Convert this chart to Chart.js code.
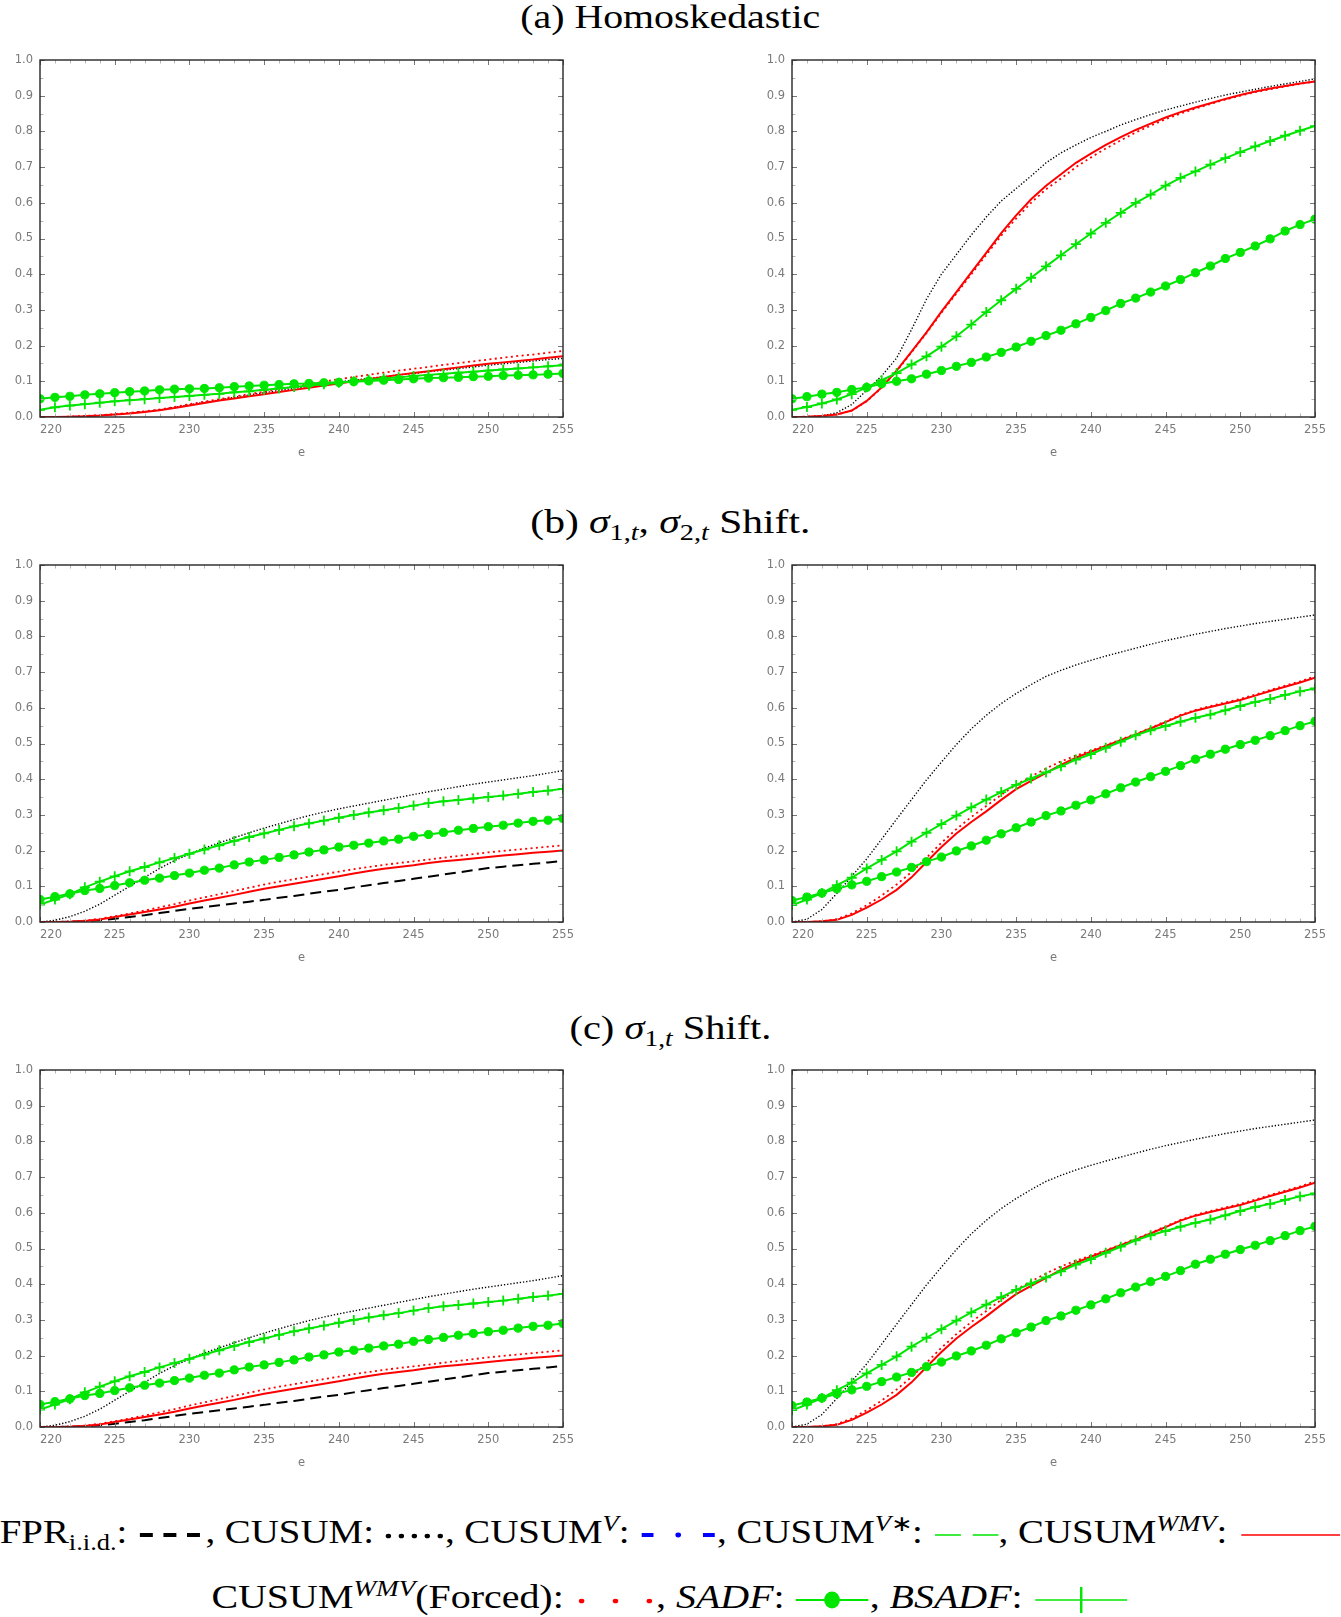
<!DOCTYPE html>
<html>
<head>
<meta charset="utf-8">
<script src="https://cdn.jsdelivr.net/npm/chart.js@4.4.0/dist/chart.umd.min.js"></script>
<style>
html,body{margin:0;padding:0;background:#fff;}
body{width:1341px;height:1617px;position:relative;overflow:hidden;font-family:"Liberation Serif","Times New Roman",serif;color:#000;}
canvas{position:absolute;}
.row{position:absolute;left:0;width:1341px;text-align:center;white-space:nowrap;}
.title{font-size:33px;line-height:40px;height:40px;}
.leg{font-size:33px;line-height:44px;height:44px;}
.fit{display:inline-block;transform-origin:50% 50%;}
sup,sub{font-size:0.68em;line-height:0;}
sup{vertical-align:0.55em;}
sub{vertical-align:-0.3em;}
svg{vertical-align:middle;}
</style>
</head>
<body>
<div class="row title" style="top:-3px"><span class="fit" data-w="300">(a) Homoskedastic</span></div>
<div class="row title" style="top:502px"><span class="fit" data-w="280">(b) <i>σ</i><sub>1,<i>t</i></sub>, <i>σ</i><sub>2,<i>t</i></sub> Shift.</span></div>
<div class="row title" style="top:1008px"><span class="fit" data-w="202">(c) <i>σ</i><sub>1,<i>t</i></sub> Shift.</span></div>

<canvas id="aL" width="585" height="417" style="left:0px;top:45px"></canvas>
<canvas id="aR" width="585" height="417" style="left:752px;top:45px"></canvas>
<canvas id="bL" width="585" height="417" style="left:0px;top:550px"></canvas>
<canvas id="bR" width="585" height="417" style="left:752px;top:550px"></canvas>
<canvas id="cL" width="585" height="417" style="left:0px;top:1055px"></canvas>
<canvas id="cR" width="585" height="417" style="left:752px;top:1055px"></canvas>

<div class="row leg" style="top:1510px"><span class="fit" data-w="1341">FPR<sub>i.i.d.</sub>: <svg width="58" height="20"><line x1="2" y1="10" x2="56" y2="10" stroke="#000" stroke-width="4" stroke-dasharray="11 9"/></svg>, CUSUM: <svg width="52" height="20"><circle cx="4" cy="11" r="2.3" fill="#000"/><circle cx="15" cy="11" r="2.3" fill="#000"/><circle cx="26" cy="11" r="2.3" fill="#000"/><circle cx="37" cy="11" r="2.3" fill="#000"/><circle cx="48" cy="11" r="2.3" fill="#000"/></svg>, CUSUM<sup><i>V</i></sup>: <svg width="66" height="20"><rect x="2" y="8" width="10" height="4" fill="#0000ff"/><circle cx="33" cy="10" r="2.4" fill="#0000ff"/><rect x="54" y="8" width="10" height="4" fill="#0000ff"/></svg>, CUSUM<sup><i>V</i>∗</sup>: <svg width="56" height="20"><line x1="2" y1="10" x2="24" y2="10" stroke="#00e600" stroke-width="1.6"/><line x1="34" y1="10" x2="56" y2="10" stroke="#00e600" stroke-width="1.6"/></svg>, CUSUM<sup><i>WMV</i></sup>: <svg width="88" height="20"><line x1="4" y1="10" x2="88" y2="10" stroke="#ff0000" stroke-width="1.6"/></svg></span></div>
<div class="row leg" style="top:1575px"><span class="fit" data-w="918">CUSUM<sup><i>WMV</i></sup>(Forced): <svg width="68" height="20"><circle cx="6" cy="11" r="2.3" fill="#ff0000"/><circle cx="34" cy="11" r="2.3" fill="#ff0000"/><circle cx="62" cy="11" r="2.3" fill="#ff0000"/></svg>, <i>SADF</i>: <svg width="62" height="26"><line x1="1" y1="13" x2="61" y2="13" stroke="#00e600" stroke-width="2"/><ellipse cx="31" cy="13" rx="6.5" ry="8.5" fill="#00e600"/></svg>, <i>BSADF</i>: <svg width="80" height="32"><line x1="2" y1="16" x2="78" y2="16" stroke="#00e600" stroke-width="1.6"/><line x1="40" y1="3" x2="40" y2="29" stroke="#00e600" stroke-width="2"/></svg></span></div>

<script>
// ---------------- data ----------------
const E = [220,221,222,223,224,225,226,227,228,229,230,231,232,233,234,235,236,237,238,239,240,241,242,243,244,245,246,247,248,249,250,251,252,253,254,255];
const X_TICKS = [220,225,230,235,240,245,250,255];
const Y_TICKS = [0,0.1,0.2,0.3,0.4,0.5,0.6,0.7,0.8,0.9,1.0];

// (a) Homoskedastic, left
const aL_cusum  = [0.000,0.000,0.001,0.002,0.004,0.007,0.011,0.015,0.020,0.027,0.034,0.041,0.048,0.055,0.062,0.068,0.074,0.080,0.086,0.092,0.098,0.103,0.108,0.113,0.118,0.122,0.127,0.131,0.136,0.140,0.145,0.149,0.153,0.157,0.161,0.164];
const aL_wmv    = [0.000,0.000,0.001,0.002,0.004,0.007,0.010,0.014,0.019,0.025,0.032,0.039,0.046,0.052,0.058,0.064,0.070,0.076,0.082,0.088,0.094,0.100,0.106,0.112,0.118,0.123,0.128,0.134,0.139,0.144,0.149,0.153,0.157,0.161,0.166,0.170];
const aL_forced = [0.000,0.000,0.001,0.003,0.005,0.008,0.012,0.016,0.021,0.028,0.036,0.043,0.050,0.057,0.064,0.071,0.078,0.085,0.092,0.099,0.106,0.112,0.118,0.124,0.130,0.135,0.140,0.146,0.151,0.156,0.161,0.166,0.171,0.175,0.180,0.185];
const aL_sadf   = [0.051,0.055,0.058,0.062,0.065,0.068,0.071,0.073,0.076,0.078,0.079,0.080,0.082,0.085,0.087,0.089,0.091,0.093,0.094,0.096,0.097,0.099,0.101,0.103,0.105,0.107,0.109,0.110,0.111,0.113,0.114,0.116,0.117,0.118,0.120,0.122];
const aL_bsadf  = [0.020,0.027,0.032,0.036,0.040,0.044,0.047,0.050,0.053,0.056,0.059,0.062,0.065,0.069,0.072,0.076,0.080,0.084,0.088,0.092,0.096,0.100,0.104,0.108,0.111,0.115,0.118,0.121,0.124,0.127,0.130,0.133,0.136,0.139,0.142,0.145];

// (a) Homoskedastic, right
const aR_cusum  = [0.000,0.001,0.003,0.012,0.035,0.075,0.115,0.165,0.245,0.330,0.400,0.455,0.510,0.560,0.605,0.640,0.675,0.712,0.740,0.762,0.783,0.800,0.818,0.833,0.847,0.860,0.871,0.882,0.892,0.902,0.910,0.918,0.926,0.933,0.940,0.947];
const aR_wmv    = [0.000,0.001,0.003,0.007,0.018,0.045,0.083,0.130,0.183,0.237,0.295,0.350,0.405,0.460,0.515,0.565,0.610,0.648,0.680,0.712,0.738,0.762,0.784,0.804,0.822,0.839,0.854,0.867,0.879,0.891,0.902,0.912,0.920,0.927,0.934,0.940];
const aR_forced = [0.000,0.001,0.003,0.007,0.018,0.044,0.082,0.128,0.181,0.235,0.292,0.346,0.400,0.454,0.508,0.556,0.600,0.638,0.668,0.700,0.727,0.752,0.775,0.797,0.816,0.834,0.850,0.864,0.877,0.889,0.900,0.910,0.918,0.926,0.933,0.940];
const aR_sadf   = [0.051,0.057,0.064,0.069,0.077,0.083,0.093,0.100,0.107,0.120,0.130,0.142,0.153,0.168,0.181,0.196,0.212,0.228,0.243,0.261,0.279,0.298,0.318,0.333,0.350,0.367,0.385,0.404,0.423,0.444,0.461,0.479,0.499,0.521,0.539,0.554];
const aR_bsadf  = [0.020,0.028,0.038,0.049,0.064,0.083,0.103,0.123,0.147,0.170,0.197,0.226,0.259,0.294,0.327,0.359,0.390,0.422,0.453,0.484,0.514,0.544,0.572,0.600,0.623,0.648,0.670,0.688,0.707,0.725,0.742,0.758,0.773,0.788,0.802,0.815];

// (b) sigma_{1,t}, sigma_{2,t} shift, left
const bL_fpr    = [0.000,0.000,0.001,0.002,0.005,0.009,0.014,0.019,0.025,0.031,0.037,0.042,0.047,0.052,0.057,0.062,0.068,0.073,0.079,0.085,0.090,0.097,0.103,0.109,0.115,0.121,0.127,0.133,0.139,0.145,0.151,0.155,0.159,0.163,0.167,0.171];
const bL_cusum  = [0.000,0.005,0.015,0.030,0.050,0.075,0.100,0.125,0.150,0.172,0.190,0.207,0.222,0.236,0.250,0.263,0.275,0.287,0.298,0.308,0.317,0.325,0.333,0.341,0.349,0.357,0.365,0.372,0.379,0.386,0.392,0.398,0.404,0.410,0.417,0.424];
const bL_wmv    = [0.000,0.000,0.001,0.003,0.007,0.014,0.021,0.028,0.035,0.043,0.052,0.060,0.068,0.076,0.085,0.093,0.100,0.107,0.114,0.121,0.128,0.136,0.143,0.149,0.154,0.159,0.165,0.170,0.174,0.178,0.182,0.186,0.190,0.194,0.197,0.200];
const bL_forced = [0.000,0.000,0.002,0.004,0.009,0.016,0.024,0.032,0.041,0.050,0.060,0.069,0.078,0.087,0.096,0.105,0.113,0.120,0.127,0.134,0.141,0.148,0.154,0.160,0.165,0.170,0.175,0.180,0.185,0.190,0.195,0.199,0.203,0.207,0.211,0.215];
const bL_sadf   = [0.063,0.071,0.079,0.088,0.094,0.102,0.110,0.117,0.123,0.130,0.137,0.145,0.151,0.160,0.168,0.174,0.181,0.188,0.196,0.202,0.210,0.215,0.221,0.227,0.232,0.240,0.245,0.251,0.257,0.262,0.267,0.271,0.277,0.282,0.285,0.290];
const bL_bsadf  = [0.049,0.063,0.078,0.097,0.113,0.128,0.142,0.154,0.167,0.179,0.191,0.203,0.215,0.227,0.238,0.248,0.258,0.268,0.276,0.284,0.292,0.300,0.307,0.313,0.319,0.326,0.333,0.338,0.342,0.346,0.350,0.354,0.359,0.364,0.368,0.373];

// (b) sigma_{1,t}, sigma_{2,t} shift, right
const bR_cusum  = [0.000,0.008,0.035,0.080,0.128,0.177,0.232,0.288,0.343,0.398,0.448,0.497,0.541,0.579,0.612,0.640,0.665,0.688,0.705,0.720,0.733,0.745,0.756,0.767,0.778,0.788,0.797,0.806,0.814,0.822,0.829,0.836,0.842,0.848,0.854,0.860];
const bR_wmv    = [0.000,0.000,0.002,0.006,0.020,0.040,0.063,0.090,0.125,0.168,0.210,0.248,0.280,0.310,0.342,0.372,0.395,0.418,0.440,0.460,0.477,0.493,0.509,0.525,0.542,0.560,0.578,0.592,0.602,0.612,0.622,0.634,0.647,0.659,0.671,0.684];
const bR_forced = [0.000,0.000,0.002,0.008,0.024,0.047,0.074,0.105,0.140,0.180,0.222,0.260,0.294,0.325,0.356,0.384,0.408,0.430,0.450,0.466,0.480,0.495,0.511,0.527,0.544,0.562,0.580,0.594,0.605,0.615,0.625,0.637,0.650,0.662,0.674,0.688];
const bR_sadf   = [0.060,0.070,0.081,0.093,0.104,0.114,0.127,0.140,0.153,0.169,0.182,0.199,0.213,0.229,0.247,0.264,0.280,0.298,0.311,0.327,0.342,0.359,0.376,0.392,0.407,0.422,0.438,0.456,0.470,0.484,0.497,0.509,0.522,0.536,0.550,0.562];
const bR_bsadf  = [0.047,0.063,0.081,0.103,0.124,0.150,0.174,0.198,0.225,0.250,0.274,0.298,0.321,0.343,0.364,0.384,0.402,0.419,0.436,0.455,0.470,0.488,0.505,0.523,0.537,0.549,0.561,0.572,0.581,0.593,0.605,0.616,0.625,0.636,0.646,0.654];

// (c) sigma_{1,t} shift (same curves as panel b in the figure)
const cL_fpr = bL_fpr, cL_cusum = bL_cusum, cL_wmv = bL_wmv, cL_forced = bL_forced, cL_sadf = bL_sadf, cL_bsadf = bL_bsadf;
const cR_cusum = bR_cusum, cR_wmv = bR_wmv, cR_forced = bR_forced, cR_sadf = bR_sadf, cR_bsadf = bR_bsadf;

// ---------------- styling ----------------
const GREEN = 'rgb(0,230,0)';
const RED = '#ff0000';
const TICK_FONT = {family: 'DejaVu Sans', size: 11.5};
const TICK_COLOR = '#7a7a7a';

const framePlugin = {
  id: 'frame',
  afterDatasetsDraw(chart) {
    const {ctx, chartArea: a, scales: {x, y}} = chart;
    ctx.save();
    ctx.lineWidth = 1;
    for (let v = Math.ceil(x.min); v <= x.max; v++) {
      const px = Math.round(x.getPixelForValue(v)) + 0.5;
      const major = v % 5 === 0;
      const len = major ? 5 : 3.5;
      ctx.strokeStyle = major ? '#777' : '#b5b5b5';
      ctx.beginPath();
      ctx.moveTo(px, a.top); ctx.lineTo(px, a.top + len);
      ctx.moveTo(px, a.bottom); ctx.lineTo(px, a.bottom - len);
      ctx.stroke();
    }
    for (let k = 0; k <= 20; k++) {
      const v = y.min + k * (y.max - y.min) / 20;
      const py = Math.round(y.getPixelForValue(v)) + 0.5;
      const major = k % 2 === 0;
      const len = major ? 5 : 3.5;
      ctx.strokeStyle = major ? '#777' : '#b5b5b5';
      ctx.beginPath();
      ctx.moveTo(a.left, py); ctx.lineTo(a.left + len, py);
      ctx.moveTo(a.right, py); ctx.lineTo(a.right - len, py);
      ctx.stroke();
    }
    ctx.strokeStyle = '#262626';
    ctx.lineWidth = 1.4;
    ctx.strokeRect(a.left, a.top, a.right - a.left, a.bottom - a.top);
    ctx.restore();
  }
};

function pts(arr) { return arr.map((v, i) => ({x: E[i], y: v})); }

function makeChart(id, s) {
  const datasets = [
    {label: 'BSADF', data: pts(s.bsadf), borderColor: GREEN, borderWidth: 2,
     pointStyle: 'cross', pointRadius: 5, pointBorderWidth: 1.8, pointBorderColor: GREEN, pointBackgroundColor: GREEN},
    {label: 'SADF', data: pts(s.sadf), borderColor: GREEN, borderWidth: 2,
     pointStyle: 'circle', pointRadius: 4.1, pointBorderWidth: 1, pointBorderColor: GREEN, pointBackgroundColor: GREEN},
    {label: 'CUSUM WMV (Forced)', data: pts(s.forced), borderColor: RED, borderWidth: 1.8, borderDash: [2, 3.4], pointRadius: 0},
    {label: 'CUSUM WMV', data: pts(s.wmv), borderColor: RED, borderWidth: 2, pointRadius: 0},
    {label: 'CUSUM', data: pts(s.cusum), borderColor: '#000', borderWidth: 1.4, borderDash: [1.3, 1.9], pointRadius: 0}
  ];
  if (s.fpr) datasets.push({label: 'FPR i.i.d.', data: pts(s.fpr), borderColor: '#000', borderWidth: 2, borderDash: [11, 6], pointRadius: 0});
  datasets.forEach(d => { d.fill = false; d.tension = 0; });

  new Chart(document.getElementById(id), {
    type: 'line',
    data: {datasets},
    plugins: [framePlugin],
    options: {
      responsive: false,
      animation: false,
      events: [],
      layout: {padding: {top: 15, right: 22, bottom: 0, left: 0}},
      plugins: {legend: {display: false}, tooltip: {enabled: false}, title: {display: false}},
      scales: {
        x: {
          type: 'linear', min: 220, max: 255,
          afterBuildTicks: ax => { ax.ticks = X_TICKS.map(v => ({value: v})).concat([{value: 256}]); },
          ticks: {autoSkip: false, maxRotation: 0, align: 'inner', padding: 6, font: TICK_FONT, color: TICK_COLOR,
                  callback: v => (v > 255 ? '' : String(v))},
          grid: {display: false, drawTicks: false},
          border: {display: false},
          title: {display: true, text: 'e', font: TICK_FONT, color: TICK_COLOR, padding: {top: 0, bottom: 2}},
          afterFit: sc => { sc.height = 45; sc.paddingLeft = 0; sc.paddingRight = 0; }
        },
        y: {
          min: 0, max: 1,
          afterBuildTicks: ax => { ax.ticks = Y_TICKS.map(v => ({value: v})); },
          ticks: {padding: 7, font: TICK_FONT, color: TICK_COLOR, callback: v => Number(v).toFixed(1)},
          grid: {display: false, drawTicks: false},
          border: {display: false},
          afterFit: sc => { sc.width = 40; }
        }
      }
    }
  });
}

makeChart('aL', {cusum: aL_cusum, wmv: aL_wmv, forced: aL_forced, sadf: aL_sadf, bsadf: aL_bsadf});
makeChart('aR', {cusum: aR_cusum, wmv: aR_wmv, forced: aR_forced, sadf: aR_sadf, bsadf: aR_bsadf});
makeChart('bL', {fpr: bL_fpr, cusum: bL_cusum, wmv: bL_wmv, forced: bL_forced, sadf: bL_sadf, bsadf: bL_bsadf});
makeChart('bR', {cusum: bR_cusum, wmv: bR_wmv, forced: bR_forced, sadf: bR_sadf, bsadf: bR_bsadf});
makeChart('cL', {fpr: cL_fpr, cusum: cL_cusum, wmv: cL_wmv, forced: cL_forced, sadf: cL_sadf, bsadf: cL_bsadf});
makeChart('cR', {cusum: cR_cusum, wmv: cR_wmv, forced: cR_forced, sadf: cR_sadf, bsadf: cR_bsadf});

// stretch text lines horizontally to the widths they occupy in the figure (Computer Modern is wider)
function fitText() {
  document.querySelectorAll('.fit').forEach(el => {
    el.style.transform = 'none';
    const w = el.getBoundingClientRect().width;
    if (w > 0) el.style.transform = 'scaleX(' + (Number(el.dataset.w) / w) + ')';
  });
}
fitText();
if (document.fonts && document.fonts.ready) document.fonts.ready.then(fitText);
</script>
</body>
</html>
